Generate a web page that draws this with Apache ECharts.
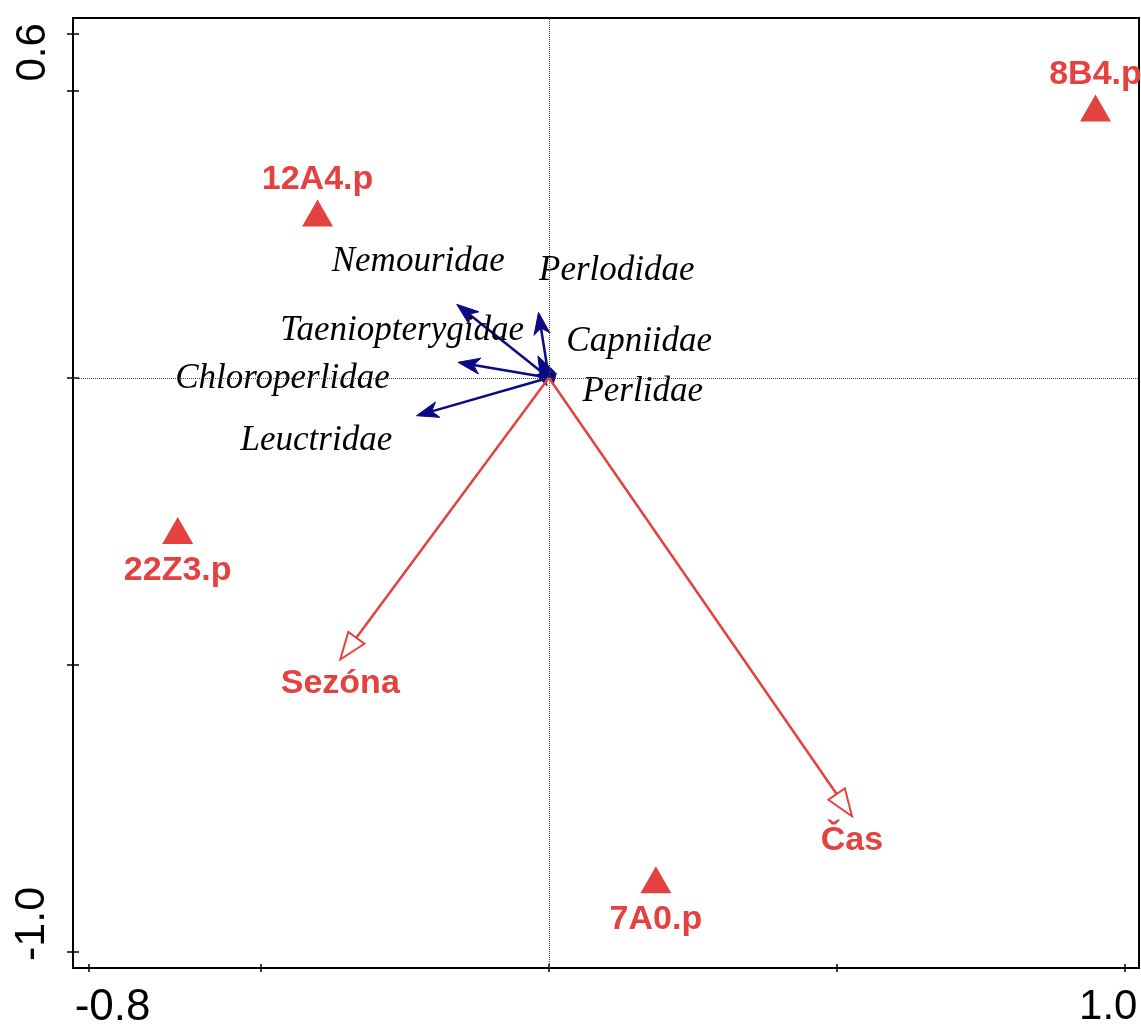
<!DOCTYPE html>
<html>
<head>
<meta charset="utf-8">
<script src="https://cdn.jsdelivr.net/npm/echarts@6/dist/echarts.min.js"></script>
<style>html,body{margin:0;padding:0;background:#fff}#c{width:1141px;height:1028px}</style>
</head>
<body>
<div id="c"></div>
<script>
// ---- data ----
const xTicks = [-0.8, -0.5, 0.0, 0.5, 1.0];
const xTickLabels = [-0.8, 1.0];
const yTicks = [-1.0, -0.5, 0.0, 0.5, 0.6];
const yTickLabels = [-1.0, 0.6];

const siteNames = ['8B4.p', '12A4.p', '22Z3.p', '7A0.p'];
const siteX = [0.950, -0.402, -0.645, 0.186];
const siteY = [0.470, 0.287, -0.266, -0.874];
const siteLabelSide = ['top', 'top', 'bottom', 'bottom'];

const envNames = ['Sezóna', 'Čas'];
const envX = [-0.3625, 0.5268];
const envY = [-0.4906, -0.7636];

const speciesNames = ['Nemouridae', 'Perlodidae', 'Taeniopterygidae', 'Capniidae', 'Chloroperlidae', 'Perlidae', 'Leuctridae'];
const speciesX = [-0.160, -0.018, -0.158, -0.019, -0.022, 0.013, -0.230];
const speciesY = [0.128, 0.114, 0.027, 0.038, 0.005, 0.008, -0.066];
const speciesLabelX = [-0.227, 0.118, -0.255, 0.157, -0.463, 0.163, -0.404];
const speciesLabelY = [0.2016, 0.186, 0.0814, 0.0622, -0.0023, -0.0249, -0.1103];

// ---- styles ----
const RED = '#e34240';
const BLUE = '#0a0a86';
const SANS = '"Liberation Sans", Arial, sans-serif';
const SERIF = '"Liberation Serif", "Times New Roman", serif';
const XMIN = -0.827, XMAX = 1.0256, YMIN = -1.0279, YMAX = 0.6267;

function arrowItem(color, open, headLen, headHalf, lineW, labelText) {
  return function (params, api) {
    const p0 = api.coord([0, 0]);
    const p1 = api.coord([api.value(0), api.value(1)]);
    const dx = p1[0] - p0[0], dy = p1[1] - p0[1];
    const L = Math.hypot(dx, dy) || 1;
    const ux = dx / L, uy = dy / L, nx = -uy, ny = ux;
    const h = Math.min(headLen, L);
    const bx = p1[0] - ux * h, by = p1[1] - uy * h;
    const children = [];
    let shaftEnd, pts;
    if (open) {
      shaftEnd = [bx, by];
      pts = [[p1[0], p1[1]], [bx + nx * headHalf, by + ny * headHalf], [bx - nx * headHalf, by - ny * headHalf]];
    } else {
      const notch = [p1[0] - ux * h * 0.72, p1[1] - uy * h * 0.72];
      shaftEnd = notch;
      pts = [[p1[0], p1[1]], [bx + nx * headHalf, by + ny * headHalf], notch, [bx - nx * headHalf, by - ny * headHalf]];
    }
    children.push({
      type: 'line',
      shape: { x1: p0[0], y1: p0[1], x2: shaftEnd[0], y2: shaftEnd[1] },
      style: { stroke: color, lineWidth: lineW }
    });
    children.push({
      type: 'polygon',
      shape: { points: pts },
      style: open ? { fill: '#fff', stroke: color, lineWidth: 2 } : { fill: color, stroke: color, lineWidth: 1 }
    });
    if (labelText) {
      children.push({
        type: 'text',
        style: {
          text: labelText[params.dataIndex], x: p1[0], y: p1[1] + 24,
          align: 'center', verticalAlign: 'middle',
          font: 'bold 34px ' + SANS, fill: color
        }
      });
    }
    return { type: 'group', children: children };
  };
}

const chart = echarts.init(document.getElementById('c'), null, { renderer: 'canvas' });

const axisCommon = { type: 'value', splitLine: { show: false } };

const option = {
  backgroundColor: '#fff',
  animation: false,
  grid: { left: 73, right: 2, top: 18, bottom: 60, show: true, borderColor: '#000', borderWidth: 2, containLabel: false, outerBoundsMode: 'none' },
  xAxis: [
    Object.assign({}, axisCommon, {
      min: XMIN, max: XMAX, position: 'bottom',
      axisLine: { show: true, onZero: false, lineStyle: { color: '#000', width: 2 } },
      axisTick: { show: true, customValues: xTicks, length: 4, lineStyle: { color: '#000', width: 1.5 } },
      axisLabel: {
        show: true, customValues: xTickLabels, margin: 18, color: '#000',
        fontSize: 42, fontFamily: SANS,
        formatter: function (v) { return v < 0 ? '{lo|' + v.toFixed(1) + '}' : '{hi|' + v.toFixed(1) + '}'; },
        rich: {
          lo: { fontSize: 44, fontFamily: SANS, color: '#000', padding: [0, 0, 0, 48] },
          hi: { fontSize: 42, fontFamily: SANS, color: '#000', padding: [0, 32, 0, 0] }
        }
      }
    }),
    Object.assign({}, axisCommon, {
      min: XMIN, max: XMAX, position: 'bottom',
      axisLine: { show: false, onZero: false },
      axisTick: { show: true, inside: true, customValues: xTicks, length: 4, lineStyle: { color: '#000', width: 1.5 } },
      axisLabel: { show: false }
    })
  ],
  yAxis: [
    Object.assign({}, axisCommon, {
      min: YMIN, max: YMAX, position: 'left',
      axisLine: { show: true, onZero: false, lineStyle: { color: '#000', width: 2 } },
      axisTick: { show: true, customValues: yTicks, length: 6, lineStyle: { color: '#000', width: 1.5 } },
      axisLabel: {
        show: true, customValues: yTickLabels, margin: 19, rotate: 90, color: '#000',
        fontSize: 42, fontFamily: SANS,
        formatter: function (v) { return v < 0 ? '{lo|' + v.toFixed(1) + '}' : '{hi|' + v.toFixed(1) + '}'; },
        rich: {
          lo: { fontSize: 43, fontFamily: SANS, color: '#000', padding: [0, 0, 0, 56] },
          hi: { fontSize: 42, fontFamily: SANS, color: '#000', padding: [0, 38, 0, 0] }
        }
      }
    }),
    Object.assign({}, axisCommon, {
      min: YMIN, max: YMAX, position: 'left',
      axisLine: { show: false, onZero: false },
      axisTick: { show: true, inside: true, customValues: yTicks, length: 6, lineStyle: { color: '#000', width: 1.5 } },
      axisLabel: { show: false }
    })
  ],
  series: [
    {
      type: 'line', data: [], z: 1, silent: true,
      markLine: {
        silent: true, symbol: ['none', 'none'], label: { show: false },
        lineStyle: { type: 'dotted', color: '#444', width: 1 },
        data: [{ xAxis: 0 }, { yAxis: 0 }]
      }
    },
    {
      type: 'custom', z: 3, clip: false,
      data: speciesX.map((x, i) => [x, speciesY[i]]),
      encode: { x: 0, y: 1 },
      renderItem: arrowItem(BLUE, false, 22, 8, 2.5)
    },
    {
      type: 'scatter', z: 4, silent: true,
      data: speciesLabelX.map((x, i) => ({ name: speciesNames[i], value: [x, speciesLabelY[i]] })),
      symbolSize: 0,
      itemStyle: { opacity: 1 },
      label: {
        show: true, position: 'inside', formatter: '{b}',
        fontFamily: SERIF, fontStyle: 'italic', fontSize: 35, color: '#000', opacity: 1
      }
    },
    {
      type: 'custom', z: 5, clip: false,
      data: envX.map((x, i) => [x, envY[i]]),
      encode: { x: 0, y: 1 },
      renderItem: arrowItem(RED, true, 27, 10, 2.5, envNames)
    },
    {
      type: 'scatter', z: 6, silent: true,
      symbol: 'triangle', symbolSize: [31, 27],
      itemStyle: { color: RED, opacity: 1 },
      data: siteX.map((x, i) => ({
        name: siteNames[i], value: [x, siteY[i]],
        label: { offset: [0, siteLabelSide[i] === 'top' ? -33 : 40] }
      })),
      label: {
        show: true, position: 'inside', formatter: '{b}',
        fontFamily: SANS, fontWeight: 'bold', fontSize: 34, color: RED, opacity: 1
      }
    }
  ]
};
chart.setOption(option);
</script>
</body>
</html>
